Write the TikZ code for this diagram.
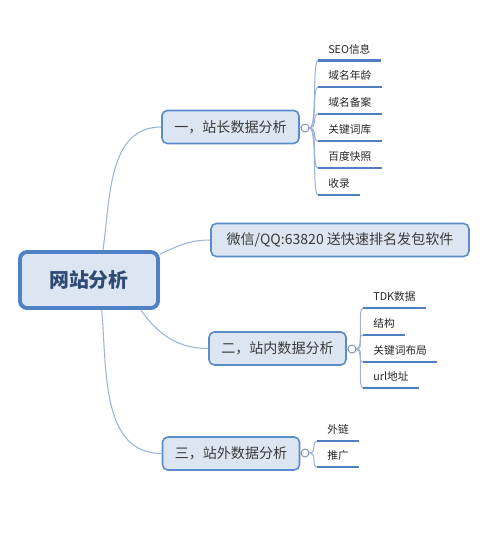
\documentclass[tikz,border=0pt]{standalone}
\usepackage{fontspec}
\setmainfont{Noto Sans CJK SC}
\definecolor{boxfill}{HTML}{DCE6F2}
\definecolor{boxline}{HTML}{5B8BC9}
\definecolor{rootline}{HTML}{4F81C7}
\definecolor{linkline}{HTML}{9BB3DA}
\definecolor{leafline}{HTML}{4F7FC0}
\definecolor{roottext}{HTML}{2E4B73}
\definecolor{branchtext}{HTML}{3A3A3A}
\begin{document}
\begin{tikzpicture}[x=0.02cm, y=-0.02cm,
  % Box styles
  root/.style={rectangle, rounded corners=4pt, draw=rootline, fill=boxfill,
    line width=2.2pt, minimum width=2.76cm, minimum height=1.12cm,
    font=\fontsize{11.3}{13}\selectfont\bfseries, text=roottext},
  branch/.style={rectangle, rounded corners=3pt, draw=boxline, fill=boxfill,
    line width=0.9pt, minimum width=2.74cm, minimum height=0.66cm,
    font=\fontsize{8}{10}\selectfont, text=branchtext},
  leaf/.style={anchor=south west, inner xsep=0.2cm, inner ysep=0pt,
    minimum height=0.44cm, font=\fontsize{6.1}{7}\selectfont, text=black!85},
  fold/.style={circle, draw=linkline!80!black, fill=white, line width=0.5pt,
    minimum size=0.16cm, inner sep=0pt},
  % Line styles
  link/.style={draw=linkline, line width=0.6pt},
  underline/.style={draw=leafline, line width=1.4pt},
]

\useasboundingbox (0,0) rectangle (500,552);

% Horizontal positions
\def\leafa{318}
\def\leafb{363}
\def\leafc{317}

% --- Root ---
\node[root] (root) at (89,280) {网站分析};

% --- Branch 1: 站长数据 ---
\node[branch] (b1) at (230.5,127) {一，站长数据分析};
\node[fold] (f1) at (305,128) {};
\node[leaf] (l11) at (\leafa,60.5) {SEO信息};
\node[leaf] (l12) at (\leafa,87) {域名年龄};
\node[leaf] (l13) at (\leafa,114) {域名备案};
\node[leaf] (l14) at (\leafa,141) {关键词库};
\node[leaf] (l15) at (\leafa,168) {百度快照};
\node[leaf] (l16) at (\leafa,195) {收录};

% --- Branch 2: contact box ---
\node[branch, minimum width=5.16cm] (b2) at (340,240)
  {微信/QQ:63820 送快速排名发包软件};

% --- Branch 3: 站内数据 ---
\node[branch] (b3) at (277.5,348.5) {二，站内数据分析};
\node[fold] (f3) at (352,349) {};
\node[leaf] (l31) at (\leafb,308) {TDK数据};
\node[leaf] (l32) at (\leafb,335) {结构};
\node[leaf] (l33) at (\leafb,362) {关键词布局};
\node[leaf] (l34) at (\leafb,388) {url地址};

% --- Branch 4: 站外数据 ---
\node[branch] (b4) at (231,453.5) {三，站外数据分析};
\node[fold] (f4) at (305,453) {};
\node[leaf] (l41) at (\leafc,441) {外链};
\node[leaf] (l42) at (\leafc,467) {推广};

% Root to branches
\draw[link] ([xshift=0.28cm]root.north) to[out=82, in=180] (b1.west);
\draw[link] (root.20) to[out=25, in=180] (b2.west);
\draw[link] (root.-30) to[out=-55, in=180] (b3.west);
\draw[link] (root.-67) to[out=-85, in=180] (b4.west);

% Branch to fold marks
\draw[link] (b1.east) -- (f1.west);
\draw[link] (b3.east) -- (f3.west);
\draw[link] (b4.east) -- (f4.west);

% Fold marks to leaves
\foreach \f/\l in {f1/l11, f1/l12, f1/l13, f1/l14, f1/l15, f1/l16,
                   f3/l31, f3/l32, f3/l33, f3/l34, f4/l41, f4/l42} {
  \draw[link] (\f.east) .. controls +(8,0) and +(-6,0) .. (\l.south west);
  \draw[underline] (\l.south west) -- (\l.south east);
}

\end{tikzpicture}
\end{document}
